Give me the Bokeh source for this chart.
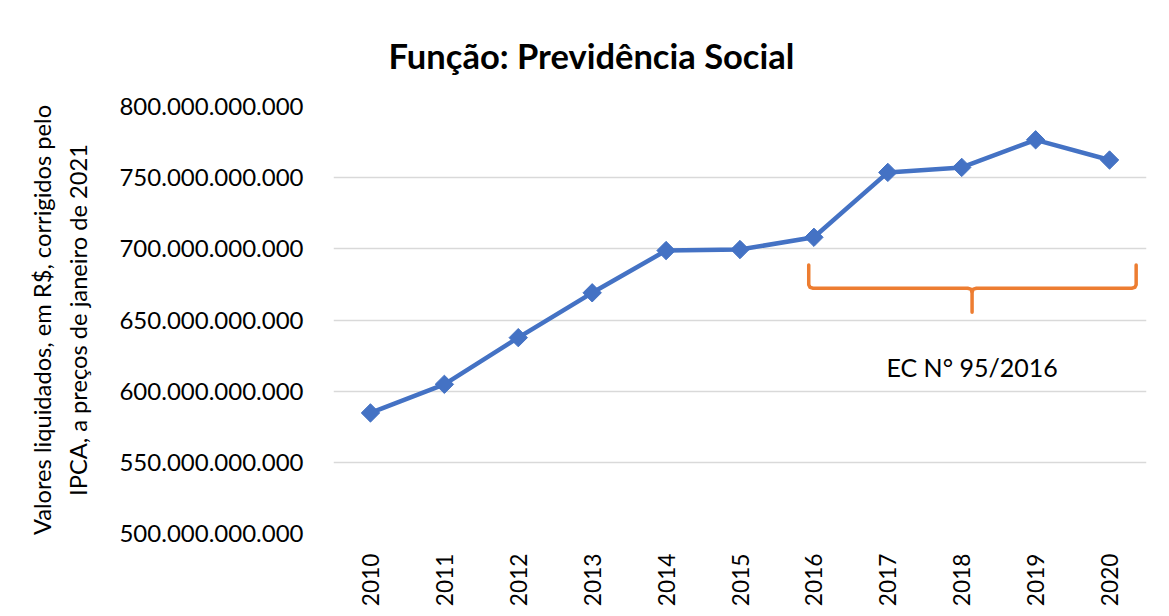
import numpy as np
from bokeh.plotting import figure
from bokeh.models import Range1d, FixedTicker, CustomJSTickFormatter, Label, Title
from bokeh.embed import file_html
from bokeh.resources import INLINE

# ---- data ----
years = [2010, 2011, 2012, 2013, 2014, 2015, 2016, 2017, 2018, 2019, 2020]
values = [584.7e9, 604.8e9, 637.6e9, 669.1e9, 698.8e9, 699.5e9,
          708.1e9, 753.7e9, 757.2e9, 776.6e9, 762.4e9]
y_ticks = [500e9, 550e9, 600e9, 650e9, 700e9, 750e9, 800e9]
year_labels = {y: str(y) for y in years}
title_text = "Função: Previdência Social"
y_label = "Valores liquidados, em R$, corrigidos pelo\nIPCA, a preços de janeiro de 2021"
note_text = "EC N° 95/2016"

FONT = "Lato"
BLUE = "#4472C4"
ORANGE = "#ED7D31"
GRID = "#D9D9D9"

p = figure(width=1169, height=616, output_backend="svg", toolbar_location=None,
           x_range=Range1d(years[0] - 0.5, years[-1] + 0.5),
           y_range=Range1d(y_ticks[0], y_ticks[-1]),
           min_border_left=333, min_border_right=23,
           min_border_top=106, min_border_bottom=83)
p.outline_line_color = None
p.background_fill_color = "white"
p.border_fill_color = "white"

# title
t = Title(text=title_text, align="left", offset=55, text_font=FONT,
          text_font_size="34.5px", text_font_style="bold", text_color="black",
          standoff=62)
p.add_layout(t, "above")

# axes
p.xaxis.ticker = FixedTicker(ticks=years)
p.xaxis.major_label_overrides = year_labels
p.xaxis.major_label_orientation = np.pi / 2
p.xaxis.major_label_text_font = FONT
p.xaxis.major_label_text_font_size = "22.7px"
p.xaxis.major_label_text_color = "black"
p.xaxis.major_label_standoff = 14
p.xaxis.axis_line_color = None
p.xaxis.major_tick_line_color = None
p.xaxis.minor_tick_line_color = None

p.yaxis.ticker = FixedTicker(ticks=y_ticks)
p.yaxis.formatter = CustomJSTickFormatter(
    code="return Math.round(tick).toString().replace(/\\B(?=(\\d{3})+(?!\\d))/g, '.');")
p.yaxis.major_label_text_font = FONT
p.yaxis.major_label_text_font_size = "24px"
p.yaxis.major_label_text_color = "black"
p.yaxis.major_label_standoff = 24
p.yaxis.axis_line_color = None
p.yaxis.major_tick_line_color = None
p.yaxis.minor_tick_line_color = None
p.yaxis.axis_label = y_label
p.yaxis.axis_label_text_font = FONT
p.yaxis.axis_label_text_font_size = "23.7px"
p.yaxis.axis_label_text_font_style = "normal"
p.yaxis.axis_label_text_color = "black"
p.yaxis.axis_label_text_line_height = 1.3
p.yaxis.axis_label_standoff = 24

p.xgrid.grid_line_color = None
p.ygrid.grid_line_color = GRID
p.ygrid.grid_line_width = 1.5

# series
p.line(years, values, line_color=BLUE, line_width=4.5, line_join="round")
p.scatter(years, values, marker="square", angle=np.pi / 4, size=13,
          fill_color=BLUE, line_color=BLUE)

# brace annotation (EC 95/2016)
bx_l, bx_m, bx_r = 2015.93, 2018.14, 2020.36
by_top, by_bar, by_tip = 688.7e9, 672.3e9, 655.5e9
r = 0.06
dy = 2.5e9
brace_xs = [
    [bx_l, bx_l, bx_l + r * 0.3, bx_l + r, bx_m - r, bx_m - r * 0.3, bx_m, bx_m],
    [bx_m, bx_m + r * 0.3, bx_m + r, bx_r - r, bx_r - r * 0.3, bx_r, bx_r],
]
brace_ys = [
    [by_top, by_bar + dy, by_bar + dy * 0.25, by_bar, by_bar, by_bar - dy * 0.25, by_bar - dy, by_tip],
    [by_bar - dy, by_bar - dy * 0.25, by_bar, by_bar, by_bar + dy * 0.25, by_bar + dy, by_top],
]
p.multi_line(brace_xs, brace_ys, line_color=ORANGE, line_width=3.5,
             line_join="round", line_cap="round")

p.add_layout(Label(x=bx_m, y=617e9, text=note_text, text_align="center",
                   text_baseline="alphabetic", text_font=FONT,
                   text_font_size="25px", text_color="black"))

open("out.html", "w").write(file_html(p, INLINE))
